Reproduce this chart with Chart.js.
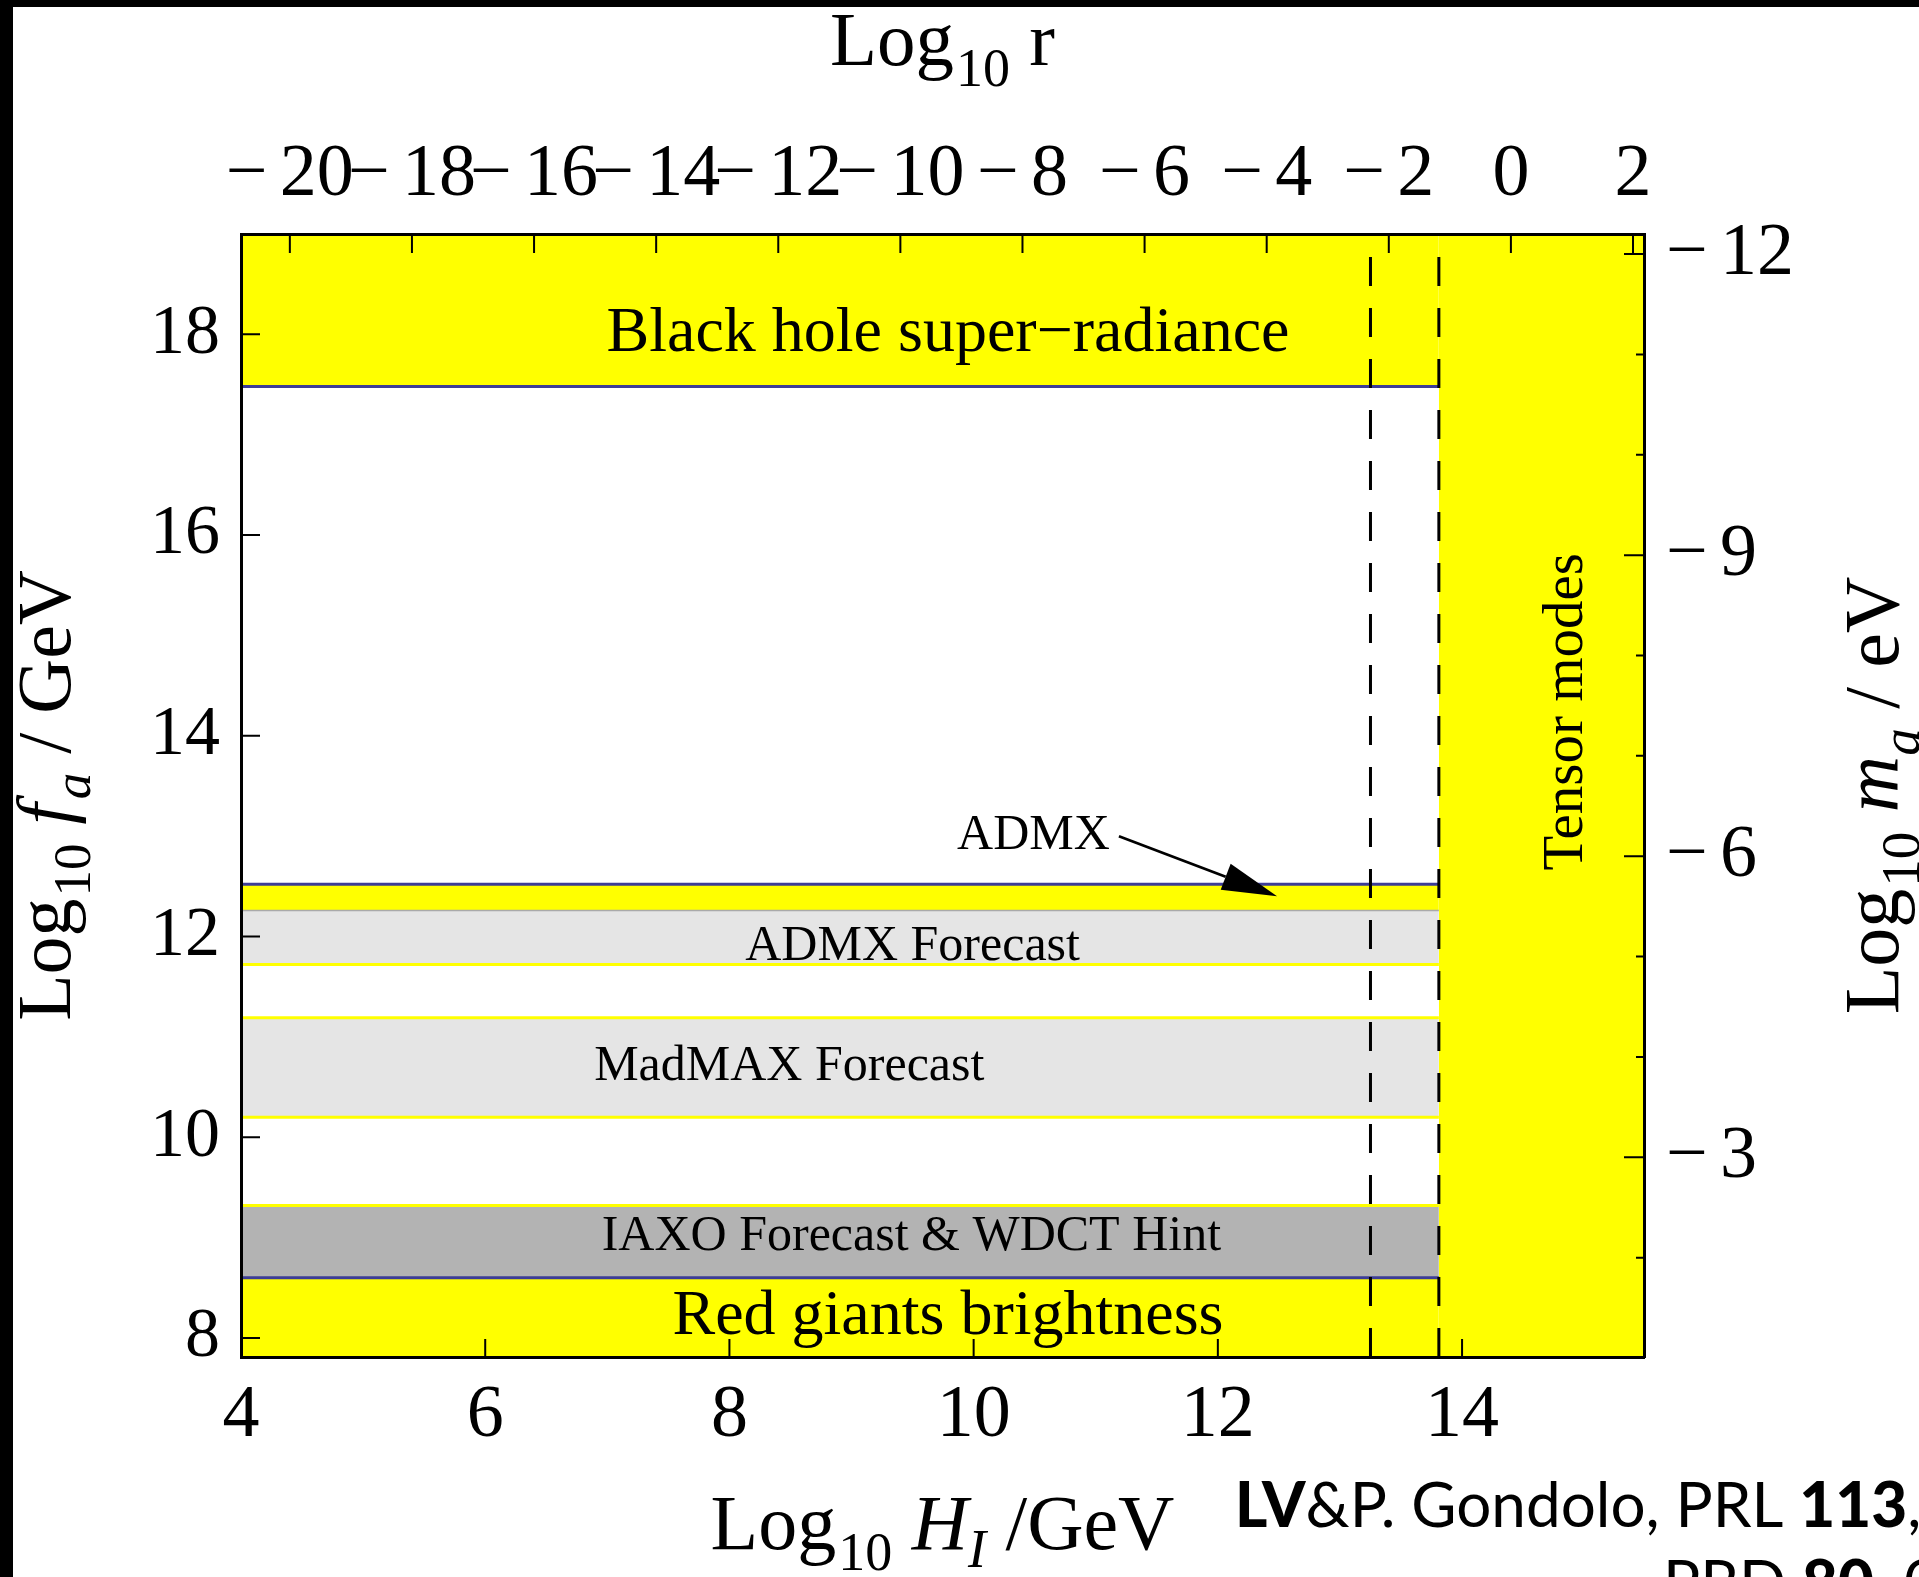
<!DOCTYPE html>
<html>
<head>
<meta charset="utf-8">
<title>Axion bounds</title>
<script src="https://cdn.jsdelivr.net/npm/chart.js@4.4.1/dist/chart.umd.min.js"></script>
<style>
  html, body { margin: 0; padding: 0; background: #000; width: 1919px; height: 1577px; overflow: hidden; }
  #wrap { position: absolute; left: 13px; top: 7px; width: 1906px; height: 1570px; background: #fff; }
  canvas { display: block; }
</style>
</head>
<body>
<div id="wrap"><canvas id="axionChart" width="1906" height="1570"></canvas></div>
<script>
// axis ranges and ticks
const hRange = [4, 15.49];            // Log10 H_I / GeV
const faRange = [7.81, 19.0];         // Log10 f_a / GeV
const hTicks = [4, 6, 8, 10, 12, 14];
const faTicks = [8, 10, 12, 14, 16, 18];
const rTicks = [-20, -18, -16, -14, -12, -10, -8, -6, -4, -2, 0, 2];
const maTicks = [-12, -11, -10, -9, -8, -7, -6, -5, -4, -3, -2];
const maLabelled = [-12, -9, -6, -3];

// secondary axes: log r = 2 log H - rOffset, log m = maOffset - log f
const rOffset = 28.8;
const maOffset = 6.8;

// excluded / forecast regions (Log10 f_a)
const hTensor = 13.81;
const hDashed = [13.25, 13.81];
const faBlackHole = 17.48;
const faADMX = [12.26, 12.52];
const faADMXForecast = [11.72, 12.26];
const faMadMAX = [10.2, 11.19];
const faIAXO = [8.6, 9.32];

const YELLOW = '#ffff00';
const NAVY = '#3d3d96';
const LIGHT = '#e5e5e5';
const DARK = '#b3b3b3';
const SERIF = '"Liberation Serif", "Times New Roman", serif';

function edge(y, color, width, fill, bg) {
  return {
    data: [{ x: hRange[0], y: y }, { x: hTensor, y: y }],
    borderColor: color,
    borderWidth: width,
    backgroundColor: bg || 'transparent',
    fill: fill || false,
    pointRadius: 0,
    tension: 0,
    order: 1
  };
}

function dashed(x) {
  return {
    data: [{ x: x, y: faRange[0] }, { x: x, y: faRange[1] }],
    borderColor: '#000',
    borderWidth: 3,
    borderDash: [29, 22],
    pointRadius: 0,
    fill: false,
    order: 0
  };
}

const datasets = [
  edge(faBlackHole, NAVY, 3, 'end', YELLOW),
  edge(faADMX[1], NAVY, 3, '+1', YELLOW),
  edge(faADMXForecast[1], '#a9a9a9', 1.5, '+1', LIGHT),
  edge(faADMXForecast[0], YELLOW, 3),
  edge(faMadMAX[1], YELLOW, 3, '+1', LIGHT),
  edge(faMadMAX[0], YELLOW, 3),
  edge(faIAXO[1], YELLOW, 3, '+1', DARK),
  edge(faIAXO[0], NAVY, 3, 'start', YELLOW),
  {
    data: [{ x: hTensor, y: faRange[1] }, { x: hRange[1], y: faRange[1] }],
    borderWidth: 0,
    backgroundColor: YELLOW,
    fill: 'start',
    pointRadius: 0,
    order: 1
  },
  dashed(hDashed[0]),
  dashed(hDashed[1])
];

// labels inside the plot, anchored in data units
const notes = [
  { text: 'Black hole super\u2212radiance', h: 9.79, f: 17.83, size: 64 },
  { text: 'ADMX', h: 10.49, f: 12.876, size: 50 },
  { text: 'ADMX Forecast', h: 9.5, f: 11.77, size: 50 },
  { text: 'MadMAX Forecast', h: 8.49, f: 10.574, size: 50 },
  { text: 'IAXO Forecast & WDCT Hint', h: 9.49, f: 8.88, size: 50 },
  { text: 'Red giants brightness', h: 9.79, f: 8.04, size: 64 },
  { text: 'Tensor modes', h: 14.98, f: 14.24, size: 57, rotate: true }
];
const arrow = { from: [11.19, 13.0], to: [12.485, 12.4] };

function minus(v) {
  return v < 0 ? '\u2212\u2006' + Math.abs(v) : String(v);
}

function drawRuns(ctx, runs, x, y, angle, align) {
  ctx.save();
  ctx.translate(x, y);
  ctx.rotate(angle || 0);
  ctx.textAlign = 'left';
  ctx.textBaseline = 'alphabetic';
  ctx.fillStyle = '#000';
  let total = 0;
  runs.forEach(r => {
    ctx.font = r.font;
    r.w = ctx.measureText(r.text).width;
    total += r.w + (r.gap || 0);
  });
  let cx = align === 'left' ? 0 : -total / 2;
  runs.forEach(r => {
    ctx.font = r.font;
    cx += r.gap || 0;
    ctx.fillText(r.text, cx, r.dy || 0);
    cx += r.w;
  });
  ctx.restore();
}

const f = (size, style) => (style ? style + ' ' : '') + size + 'px ' + SERIF;
const sans = (size, bold) => (bold ? '900 ' : '') + size + 'px Lato, "Open Sans", sans-serif';

const decorations = {
  id: 'decorations',
  afterDatasetsDraw(chart) {
    const { ctx, chartArea: a, scales } = chart;
    const px = v => scales.x.getPixelForValue(v);
    const py = v => scales.y.getPixelForValue(v);

    // inward tick marks
    ctx.save();
    ctx.strokeStyle = '#000';
    ctx.lineWidth = 2;
    ctx.beginPath();
    hTicks.forEach(v => { ctx.moveTo(px(v), a.bottom); ctx.lineTo(px(v), a.bottom - 18); });
    rTicks.forEach(v => {
      const x = scales.x2.getPixelForValue(v);
      ctx.moveTo(x, a.top); ctx.lineTo(x, a.top + 19);
    });
    faTicks.forEach(v => { ctx.moveTo(a.left, py(v)); ctx.lineTo(a.left + 19, py(v)); });
    maTicks.forEach(v => {
      const y = scales.y2.getPixelForValue(v);
      const len = maLabelled.includes(v) ? 20 : 8;
      ctx.moveTo(a.right, y); ctx.lineTo(a.right - len, y);
    });
    ctx.stroke();

    // arrow to the ADMX band
    const x0 = px(arrow.from[0]), y0 = py(arrow.from[1]);
    const x1 = px(arrow.to[0]), y1 = py(arrow.to[1]);
    const ang = Math.atan2(y1 - y0, x1 - x0);
    const headLen = 55, headHalf = 14;
    const bx = x1 - headLen * Math.cos(ang), by = y1 - headLen * Math.sin(ang);
    ctx.lineWidth = 2.7;
    ctx.beginPath();
    ctx.moveTo(x0, y0);
    ctx.lineTo(bx, by);
    ctx.stroke();
    ctx.fillStyle = '#000';
    ctx.beginPath();
    ctx.moveTo(x1, y1);
    ctx.lineTo(bx + headHalf * Math.sin(ang), by - headHalf * Math.cos(ang));
    ctx.lineTo(bx - headHalf * Math.sin(ang), by + headHalf * Math.cos(ang));
    ctx.closePath();
    ctx.fill();

    // region labels
    notes.forEach(n => {
      drawRuns(ctx, [{ text: n.text, font: f(n.size) }], px(n.h), py(n.f), n.rotate ? -Math.PI / 2 : 0);
    });
    ctx.restore();
  },
  afterDraw(chart) {
    const { ctx, chartArea: a } = chart;
    const midX = (a.left + a.right) / 2;
    const midY = (a.top + a.bottom) / 2;

    drawRuns(ctx, [
      { text: 'Log', font: f(77) },
      { text: '10', font: f(54), dy: 21, gap: 2 },
      { text: ' r', font: f(77) }
    ], midX, 58);

    drawRuns(ctx, [
      { text: 'Log', font: f(78) },
      { text: '10', font: f(54), dy: 21, gap: 2 },
      { text: ' ', font: f(78) },
      { text: 'H', font: f(78, 'italic') },
      { text: 'I', font: f(54, 'italic'), dy: 18 },
      { text: ' /GeV', font: f(78) }
    ], midX, 1542);

    drawRuns(ctx, [
      { text: 'Log', font: f(76) },
      { text: '10', font: f(53), dy: 20, gap: 2 },
      { text: ' ', font: f(76) },
      { text: 'f', font: f(76, 'italic') },
      { text: 'a', font: f(53, 'italic'), dy: 20, gap: 4 },
      { text: ' / GeV', font: f(76) }
    ], 57, midY, -Math.PI / 2);

    drawRuns(ctx, [
      { text: 'Log', font: f(78) },
      { text: '10', font: f(55), dy: 21, gap: 2 },
      { text: ' ', font: f(78) },
      { text: 'm', font: f(78, 'italic') },
      { text: 'a', font: f(55, 'italic'), dy: 21 },
      { text: ' / eV', font: f(78) }
    ], 1885, midY, -Math.PI / 2);

    // reference line, cut by the picture edge as in the slide
    drawRuns(ctx, [
      { text: 'LV', font: sans(62, true) },
      { text: '&P. Gondolo, PRL ', font: sans(62) },
      { text: '113', font: sans(62, true) },
      { text: ', 011802 (2014)', font: sans(62) }
    ], 1222, 1520, 0, 'left');
    drawRuns(ctx, [
      { text: 'PRD ', font: sans(62) },
      { text: '80', font: sans(62, true) },
      { text: ', 035024 (2009)', font: sans(62) }
    ], 1650, 1598, 0, 'left');
  }
};

function axis(position, min, max, ticks, size, extra) {
  const horizontal = position === 'top' || position === 'bottom';
  return Object.assign({
    type: 'linear',
    position: position,
    min: min,
    max: max,
    grid: { display: false, drawTicks: false },
    border: { display: true, color: '#000', width: 3, z: 1 },
    afterBuildTicks: s => { s.ticks = ticks.map(v => ({ value: v })); },
    afterFit: s => { if (horizontal) s.height = size; else s.width = size; },
    ticks: {
      color: '#000',
      autoSkip: false,
      maxRotation: 0,
      minRotation: 0,
      font: { family: SERIF, size: 74 },
      callback: v => minus(v)
    }
  }, extra || {});
}

const scales = {
  x: axis('bottom', hRange[0], hRange[1], hTicks, 220),
  x2: axis('top', 2 * hRange[0] - rOffset, 2 * hRange[1] - rOffset, rTicks, 227),
  y: axis('left', faRange[0], faRange[1], faTicks, 228),
  y2: axis('right', maOffset - faRange[1], maOffset - faRange[0], maTicks, 275, { reverse: true })
};
scales.x.ticks.padding = 15;
scales.x2.ticks.padding = 14;
scales.y.ticks.padding = 21;
scales.y.ticks.font = { family: SERIF, size: 70 };
scales.y2.ticks.padding = 22;
scales.y2.ticks.callback = v => (maLabelled.includes(v) ? minus(v) : '');

new Chart(document.getElementById('axionChart'), {
  type: 'line',
  data: { datasets: datasets },
  options: {
    responsive: false,
    animation: false,
    devicePixelRatio: 1,
    layout: { padding: 0 },
    plugins: {
      legend: { display: false },
      tooltip: { enabled: false },
      filler: { drawTime: 'beforeDatasetsDraw' }
    },
    scales: scales
  },
  plugins: [decorations]
});
</script>
</body>
</html>
